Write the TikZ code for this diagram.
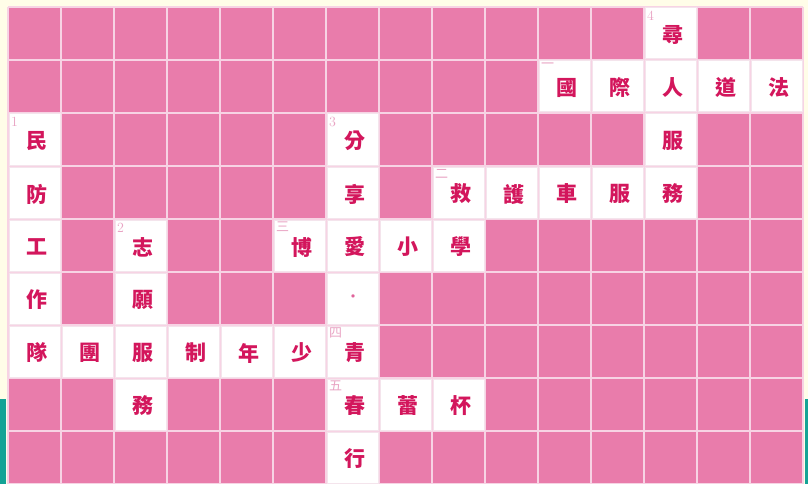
\documentclass[tikz,border=0pt]{standalone}
\usepackage{fontspec}
\newfontfamily\cjk{Noto Sans CJK TC}
\usetikzlibrary{positioning}

\definecolor{cream}{HTML}{FFFDE8}
\definecolor{cellpink}{HTML}{E97CAB}
\definecolor{linepink}{HTML}{F7D3E4}
\definecolor{faintpink}{HTML}{F4E4EC}
\definecolor{wordred}{HTML}{D3165C}
\definecolor{numpink}{HTML}{E9A3C3}
\definecolor{dotpink}{HTML}{E0649B}
\definecolor{stripteal}{HTML}{14A396}

\tikzset{
  opencell/.style={fill=white, draw=faintpink, line width=1pt},
  letter/.style={font=\cjk\bfseries\fontsize{21}{21}\selectfont, text=wordred, inner sep=0pt},
  cluenum/.style={font=\fontsize{14}{14}\selectfont, text=numpink, inner sep=0pt, anchor=north west},
  cluecjk/.style={font=\cjk\fontsize{13}{13}\selectfont, text=numpink, inner sep=0pt, anchor=north west}
}

\begin{document}
\begin{tikzpicture}[x=1pt,y=-1pt]
	\fill[cream] (0,0) rectangle (808,484);
	\useasboundingbox (0,0) rectangle (808,484);
	\fill[stripteal] (0,399) rectangle (6,484);
	\fill[stripteal] (805,399) rectangle (808,484);
	
	% the board
	\fill[cellpink] (8,7) rectangle (803,484);
	\foreach \i in {0,...,15}
		\draw[linepink, line width=2pt] (8+53*\i,7) -- (8+53*\i,484);
	\foreach \j in {0,...,9}
		\draw[linepink, line width=2pt] (8,7+53*\j) -- (803,7+53*\j);
	
	% answer cells
	\foreach \c/\r/\t in {12/0/尋,
		10/1/國, 11/1/際, 12/1/人, 13/1/道, 14/1/法,
		0/2/民, 6/2/分, 12/2/服,
		0/3/防, 6/3/享, 8/3/救, 9/3/護, 10/3/車, 11/3/服, 12/3/務,
		0/4/工, 2/4/志, 5/4/博, 6/4/愛, 7/4/小, 8/4/學,
		0/5/作, 2/5/願,
		0/6/隊, 1/6/團, 2/6/服, 3/6/制, 4/6/年, 5/6/少, 6/6/青,
		2/7/務, 6/7/春, 7/7/蕾, 8/7/杯,
		6/8/行}
	{
		\draw[opencell] (9+53*\c,8+53*\r) rectangle +(51,51);
		\node[letter] (ans-\c-\r) at (36.5+53*\c,35+53*\r) {\t};
	}
	\draw[opencell] (9+53*6,8+53*5) rectangle +(51,51);
	\node[text=dotpink, font=\cjk\fontsize{16}{16}\selectfont, inner sep=0pt] (ans-6-5) at (35+53*6,34+53*5) {・};
	
	% clue numbers
	\foreach \c/\r/\n in {0/2/1, 2/4/2, 6/2/3, 12/0/4}
		\node[cluenum] (num-\n) at (11+53*\c,11+53*\r) {\n};
	\foreach \c/\r/\n/\k in {10/1/一/a, 8/3/二/b, 5/4/三/c, 6/6/四/d, 6/7/五/e}
		\node[cluecjk] (num-\k) at (11+53*\c,10+53*\r) {\n};
\end{tikzpicture}
\end{document}
